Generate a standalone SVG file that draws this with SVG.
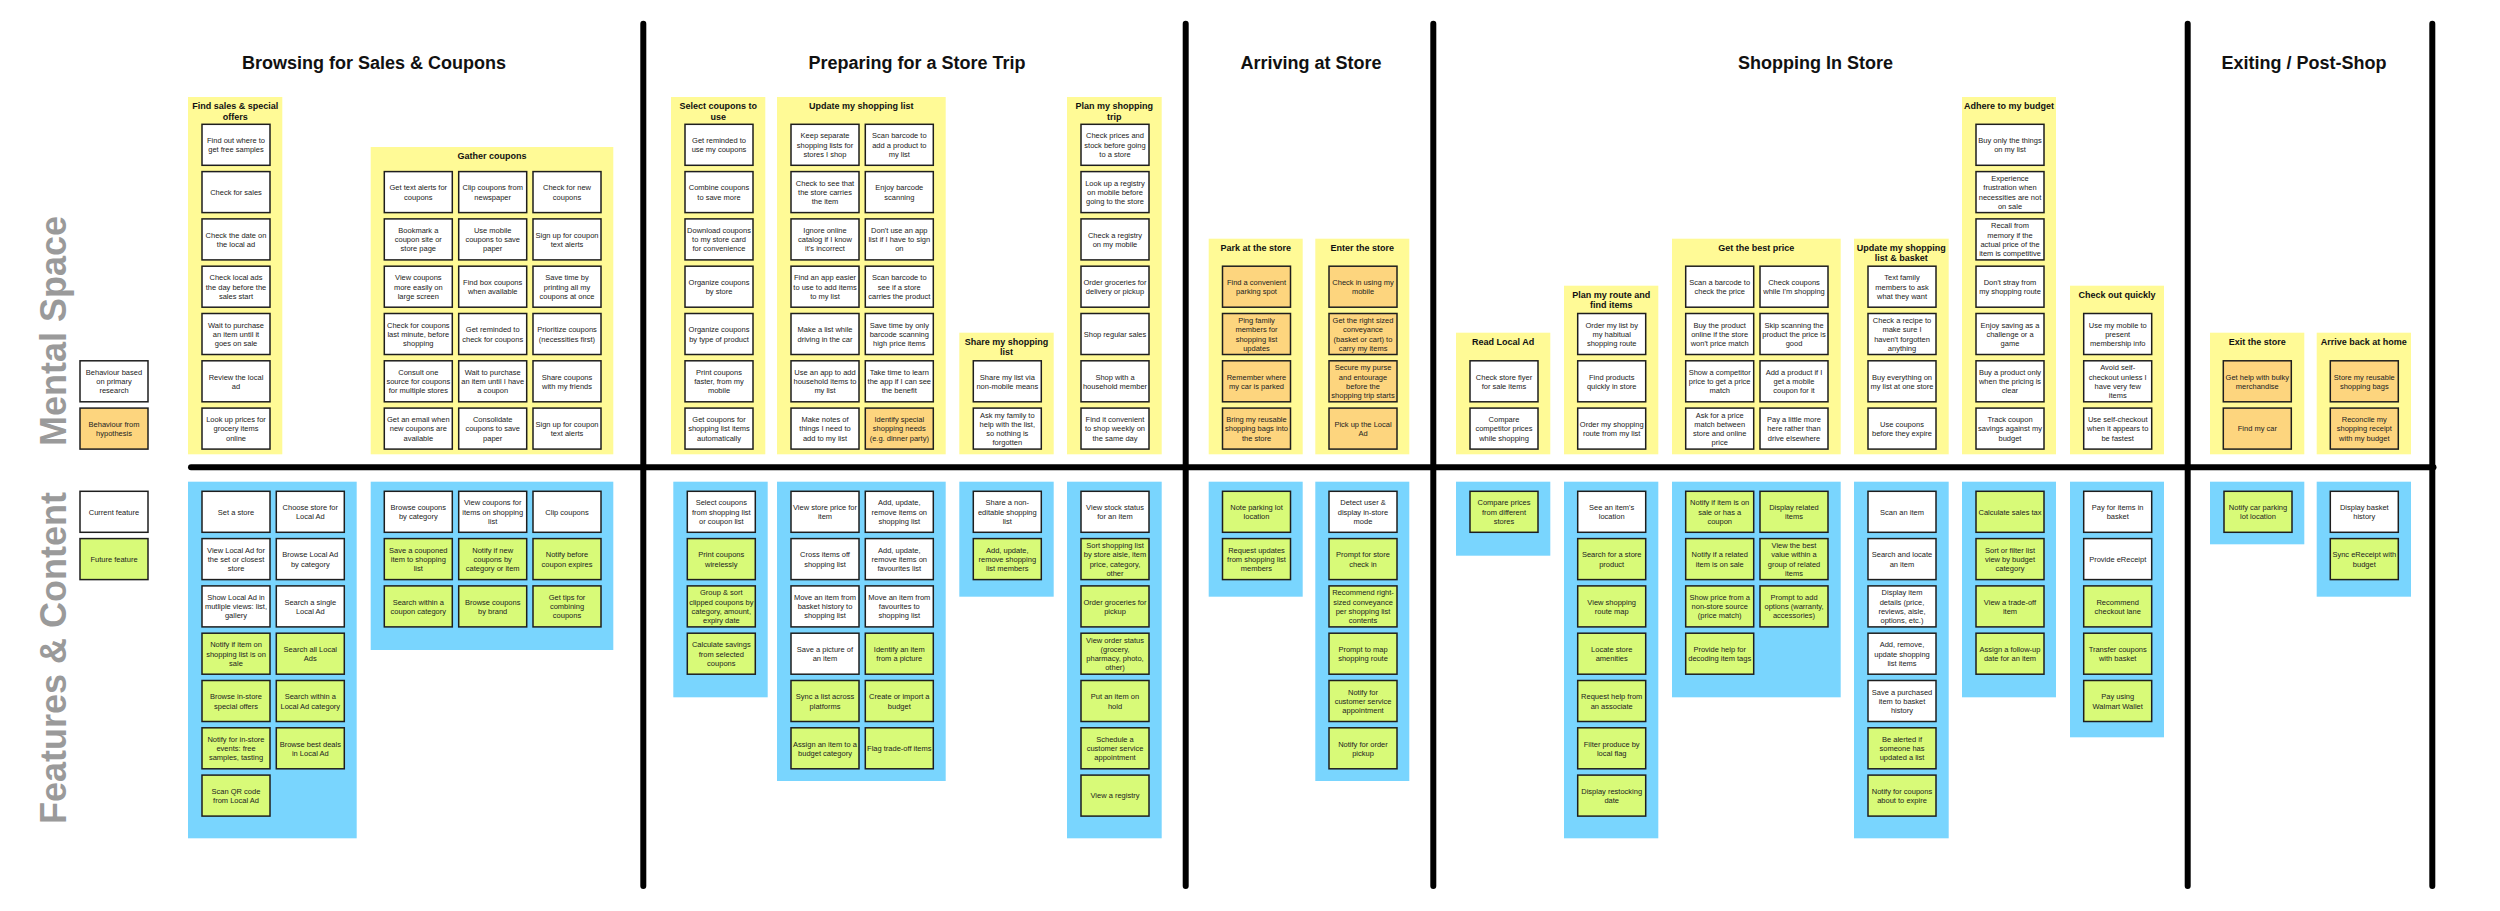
<svg xmlns="http://www.w3.org/2000/svg" width="2500" height="911" viewBox="0 0 2500 911">
<style>
.hdr{font:bold 18px "Liberation Sans",Arial,sans-serif;fill:#111;text-anchor:middle}
.side{font:bold 36px "Liberation Sans",Arial,sans-serif;fill:#9a9a9a;text-anchor:middle}
.gt{font:bold 9px "Liberation Sans",Arial,sans-serif;fill:#111;text-anchor:middle}
.t{font:7.5px "Liberation Sans",Arial,sans-serif;fill:#222;text-anchor:middle}
.yb{fill:#fffa96}
.bb{fill:#79d5fe}
.w,.o,.g{stroke:#1e1e1e;stroke-width:1.5}
.w{fill:#fff}.o{fill:#fdd57e}.g{fill:#d8fa78}
.div{stroke:#000;stroke-width:6;stroke-linecap:round;fill:none}
</style>
<rect width="2500" height="911" fill="#fff"/>

<g id="headers">
<text class="hdr" x="374" y="69">Browsing for Sales &amp; Coupons</text>
<text class="hdr" x="917" y="69">Preparing for a Store Trip</text>
<text class="hdr" x="1311" y="69">Arriving at Store</text>
<text class="hdr" x="1815.5" y="69">Shopping In Store</text>
<text class="hdr" x="2304" y="69">Exiting / Post-Shop</text>
<text class="side" transform="translate(65.7,331) rotate(-90)">Mental Space</text>
<text class="side" transform="translate(65.7,658) rotate(-90)">Features &amp; Content</text>
</g>

<g id="connectors">
<line class="div" x1="191" y1="467.3" x2="2433.5" y2="467.3"/>
<line class="div" x1="643.3" y1="23.7" x2="643.3" y2="886"/>
<line class="div" x1="1185.7" y1="23.7" x2="1185.7" y2="886"/>
<line class="div" x1="1433.3" y1="23.7" x2="1433.3" y2="886"/>
<line class="div" x1="2187.7" y1="23.7" x2="2187.7" y2="886"/>
<line class="div" x1="2432.3" y1="23.7" x2="2432.3" y2="886"/>
</g>

<g id="legend">
<g id="lg-research" transform="translate(80,360.8)"><rect class="w" width="68" height="41"/><text class="t" y="14.2"><tspan x="34">Behaviour based</tspan><tspan x="34" dy="9.2">on primary</tspan><tspan x="34" dy="9.2">research</tspan></text></g>
<g id="lg-hypothesis" transform="translate(80,408.1)"><rect class="o" width="68" height="41"/><text class="t" y="18.8"><tspan x="34">Behaviour from</tspan><tspan x="34" dy="9.2">hypothesis</tspan></text></g>
<g id="lg-current" transform="translate(80,491.3)"><rect class="w" width="68" height="41"/><text class="t" y="23.4"><tspan x="34">Current feature</tspan></text></g>
<g id="lg-future" transform="translate(80,538.6)"><rect class="g" width="68" height="41"/><text class="t" y="23.4"><tspan x="34">Future feature</tspan></text></g>
</g>

<!-- ===== Mental space groups ===== -->
<g id="ms-find-sales">
<rect class="yb" x="188" y="97" width="94.3" height="357.3"/>
<text class="gt" y="109"><tspan x="235.2">Find sales &amp; special</tspan><tspan x="235.2" dy="10.5">offers</tspan></text>
<g id="fs1" transform="translate(202,124.3)"><rect class="w" width="68" height="41"/><text class="t" y="18.8"><tspan x="34">Find out where to</tspan><tspan x="34" dy="9.2">get free samples</tspan></text></g>
<g id="fs2" transform="translate(202,171.6)"><rect class="w" width="68" height="41"/><text class="t" y="23.4"><tspan x="34">Check for sales</tspan></text></g>
<g id="fs3" transform="translate(202,218.9)"><rect class="w" width="68" height="41"/><text class="t" y="18.8"><tspan x="34">Check the date on</tspan><tspan x="34" dy="9.2">the local ad</tspan></text></g>
<g id="fs4" transform="translate(202,266.2)"><rect class="w" width="68" height="41"/><text class="t" y="14.2"><tspan x="34">Check local ads</tspan><tspan x="34" dy="9.2">the day before the</tspan><tspan x="34" dy="9.2">sales start</tspan></text></g>
<g id="fs5" transform="translate(202,313.5)"><rect class="w" width="68" height="41"/><text class="t" y="14.2"><tspan x="34">Wait to purchase</tspan><tspan x="34" dy="9.2">an item until it</tspan><tspan x="34" dy="9.2">goes on sale</tspan></text></g>
<g id="fs6" transform="translate(202,360.8)"><rect class="w" width="68" height="41"/><text class="t" y="18.8"><tspan x="34">Review the local</tspan><tspan x="34" dy="9.2">ad</tspan></text></g>
<g id="fs7" transform="translate(202,408.1)"><rect class="w" width="68" height="41"/><text class="t" y="14.2"><tspan x="34">Look up prices for</tspan><tspan x="34" dy="9.2">grocery items</tspan><tspan x="34" dy="9.2">online</tspan></text></g>
</g>

<g id="ms-gather-coupons">
<rect class="yb" x="370.7" y="147" width="242.6" height="307.3"/>
<text class="gt" x="492" y="159">Gather coupons</text>
<g id="gc1" transform="translate(384.3,171.6)"><rect class="w" width="68" height="41"/><text class="t" y="18.8"><tspan x="34">Get text alerts for</tspan><tspan x="34" dy="9.2">coupons</tspan></text></g>
<g id="gc2" transform="translate(458.7,171.6)"><rect class="w" width="68" height="41"/><text class="t" y="18.8"><tspan x="34">Clip coupons from</tspan><tspan x="34" dy="9.2">newspaper</tspan></text></g>
<g id="gc3" transform="translate(533,171.6)"><rect class="w" width="68" height="41"/><text class="t" y="18.8"><tspan x="34">Check for new</tspan><tspan x="34" dy="9.2">coupons</tspan></text></g>
<g id="gc4" transform="translate(384.3,218.9)"><rect class="w" width="68" height="41"/><text class="t" y="14.2"><tspan x="34">Bookmark a</tspan><tspan x="34" dy="9.2">coupon site or</tspan><tspan x="34" dy="9.2">store page</tspan></text></g>
<g id="gc5" transform="translate(458.7,218.9)"><rect class="w" width="68" height="41"/><text class="t" y="14.2"><tspan x="34">Use mobile</tspan><tspan x="34" dy="9.2">coupons to save</tspan><tspan x="34" dy="9.2">paper</tspan></text></g>
<g id="gc6" transform="translate(533,218.9)"><rect class="w" width="68" height="41"/><text class="t" y="18.8"><tspan x="34">Sign up for coupon</tspan><tspan x="34" dy="9.2">text alerts</tspan></text></g>
<g id="gc7" transform="translate(384.3,266.2)"><rect class="w" width="68" height="41"/><text class="t" y="14.2"><tspan x="34">View coupons</tspan><tspan x="34" dy="9.2">more easily on</tspan><tspan x="34" dy="9.2">large screen</tspan></text></g>
<g id="gc8" transform="translate(458.7,266.2)"><rect class="w" width="68" height="41"/><text class="t" y="18.8"><tspan x="34">Find box coupons</tspan><tspan x="34" dy="9.2">when available</tspan></text></g>
<g id="gc9" transform="translate(533,266.2)"><rect class="w" width="68" height="41"/><text class="t" y="14.2"><tspan x="34">Save time by</tspan><tspan x="34" dy="9.2">printing all my</tspan><tspan x="34" dy="9.2">coupons at once</tspan></text></g>
<g id="gc10" transform="translate(384.3,313.5)"><rect class="w" width="68" height="41"/><text class="t" y="14.2"><tspan x="34">Check for coupons</tspan><tspan x="34" dy="9.2">last minute, before</tspan><tspan x="34" dy="9.2">shopping</tspan></text></g>
<g id="gc11" transform="translate(458.7,313.5)"><rect class="w" width="68" height="41"/><text class="t" y="18.8"><tspan x="34">Get reminded to</tspan><tspan x="34" dy="9.2">check for coupons</tspan></text></g>
<g id="gc12" transform="translate(533,313.5)"><rect class="w" width="68" height="41"/><text class="t" y="18.8"><tspan x="34">Prioritize coupons</tspan><tspan x="34" dy="9.2">(necessities first)</tspan></text></g>
<g id="gc13" transform="translate(384.3,360.8)"><rect class="w" width="68" height="41"/><text class="t" y="14.2"><tspan x="34">Consult one</tspan><tspan x="34" dy="9.2">source for coupons</tspan><tspan x="34" dy="9.2">for multiple stores</tspan></text></g>
<g id="gc14" transform="translate(458.7,360.8)"><rect class="w" width="68" height="41"/><text class="t" y="14.2"><tspan x="34">Wait to purchase</tspan><tspan x="34" dy="9.2">an item until I have</tspan><tspan x="34" dy="9.2">a coupon</tspan></text></g>
<g id="gc15" transform="translate(533,360.8)"><rect class="w" width="68" height="41"/><text class="t" y="18.8"><tspan x="34">Share coupons</tspan><tspan x="34" dy="9.2">with my friends</tspan></text></g>
<g id="gc16" transform="translate(384.3,408.1)"><rect class="w" width="68" height="41"/><text class="t" y="14.2"><tspan x="34">Get an email when</tspan><tspan x="34" dy="9.2">new coupons are</tspan><tspan x="34" dy="9.2">available</tspan></text></g>
<g id="gc17" transform="translate(458.7,408.1)"><rect class="w" width="68" height="41"/><text class="t" y="14.2"><tspan x="34">Consolidate</tspan><tspan x="34" dy="9.2">coupons to save</tspan><tspan x="34" dy="9.2">paper</tspan></text></g>
<g id="gc18" transform="translate(533,408.1)"><rect class="w" width="68" height="41"/><text class="t" y="18.8"><tspan x="34">Sign up for coupon</tspan><tspan x="34" dy="9.2">text alerts</tspan></text></g>
</g>

<g id="ms-select-coupons">
<rect class="yb" x="671" y="97" width="94.3" height="357.3"/>
<text class="gt" y="109"><tspan x="718.2">Select coupons to</tspan><tspan x="718.2" dy="10.5">use</tspan></text>
<g id="sc1" transform="translate(685,124.3)"><rect class="w" width="68" height="41"/><text class="t" y="18.8"><tspan x="34">Get reminded to</tspan><tspan x="34" dy="9.2">use my coupons</tspan></text></g>
<g id="sc2" transform="translate(685,171.6)"><rect class="w" width="68" height="41"/><text class="t" y="18.8"><tspan x="34">Combine coupons</tspan><tspan x="34" dy="9.2">to save more</tspan></text></g>
<g id="sc3" transform="translate(685,218.9)"><rect class="w" width="68" height="41"/><text class="t" y="14.2"><tspan x="34">Download coupons</tspan><tspan x="34" dy="9.2">to my store card</tspan><tspan x="34" dy="9.2">for convenience</tspan></text></g>
<g id="sc4" transform="translate(685,266.2)"><rect class="w" width="68" height="41"/><text class="t" y="18.8"><tspan x="34">Organize coupons</tspan><tspan x="34" dy="9.2">by store</tspan></text></g>
<g id="sc5" transform="translate(685,313.5)"><rect class="w" width="68" height="41"/><text class="t" y="18.8"><tspan x="34">Organize coupons</tspan><tspan x="34" dy="9.2">by type of product</tspan></text></g>
<g id="sc6" transform="translate(685,360.8)"><rect class="w" width="68" height="41"/><text class="t" y="14.2"><tspan x="34">Print coupons</tspan><tspan x="34" dy="9.2">faster, from my</tspan><tspan x="34" dy="9.2">mobile</tspan></text></g>
<g id="sc7" transform="translate(685,408.1)"><rect class="w" width="68" height="41"/><text class="t" y="14.2"><tspan x="34">Get coupons for</tspan><tspan x="34" dy="9.2">shopping list items</tspan><tspan x="34" dy="9.2">automatically</tspan></text></g>
</g>

<g id="ms-update-list">
<rect class="yb" x="777" y="97" width="168.7" height="357.3"/>
<text class="gt" x="861.3" y="109">Update my shopping list</text>
<g id="ul1" transform="translate(791,124.3)"><rect class="w" width="68" height="41"/><text class="t" y="14.2"><tspan x="34">Keep separate</tspan><tspan x="34" dy="9.2">shopping lists for</tspan><tspan x="34" dy="9.2">stores I shop</tspan></text></g>
<g id="ul2" transform="translate(791,171.6)"><rect class="w" width="68" height="41"/><text class="t" y="14.2"><tspan x="34">Check to see that</tspan><tspan x="34" dy="9.2">the store carries</tspan><tspan x="34" dy="9.2">the item</tspan></text></g>
<g id="ul3" transform="translate(791,218.9)"><rect class="w" width="68" height="41"/><text class="t" y="14.2"><tspan x="34">Ignore online</tspan><tspan x="34" dy="9.2">catalog if I know</tspan><tspan x="34" dy="9.2">it's incorrect</tspan></text></g>
<g id="ul4" transform="translate(791,266.2)"><rect class="w" width="68" height="41"/><text class="t" y="14.2"><tspan x="34">Find an app easier</tspan><tspan x="34" dy="9.2">to use to add items</tspan><tspan x="34" dy="9.2">to my list</tspan></text></g>
<g id="ul5" transform="translate(791,313.5)"><rect class="w" width="68" height="41"/><text class="t" y="18.8"><tspan x="34">Make a list while</tspan><tspan x="34" dy="9.2">driving in the car</tspan></text></g>
<g id="ul6" transform="translate(791,360.8)"><rect class="w" width="68" height="41"/><text class="t" y="14.2"><tspan x="34">Use an app to add</tspan><tspan x="34" dy="9.2">household items to</tspan><tspan x="34" dy="9.2">my list</tspan></text></g>
<g id="ul7" transform="translate(791,408.1)"><rect class="w" width="68" height="41"/><text class="t" y="14.2"><tspan x="34">Make notes of</tspan><tspan x="34" dy="9.2">things I need to</tspan><tspan x="34" dy="9.2">add to my list</tspan></text></g>
<g id="ul8" transform="translate(865.3,124.3)"><rect class="w" width="68" height="41"/><text class="t" y="14.2"><tspan x="34">Scan barcode to</tspan><tspan x="34" dy="9.2">add a product to</tspan><tspan x="34" dy="9.2">my list</tspan></text></g>
<g id="ul9" transform="translate(865.3,171.6)"><rect class="w" width="68" height="41"/><text class="t" y="18.8"><tspan x="34">Enjoy barcode</tspan><tspan x="34" dy="9.2">scanning</tspan></text></g>
<g id="ul10" transform="translate(865.3,218.9)"><rect class="w" width="68" height="41"/><text class="t" y="14.2"><tspan x="34">Don't use an app</tspan><tspan x="34" dy="9.2">list if I have to sign</tspan><tspan x="34" dy="9.2">on</tspan></text></g>
<g id="ul11" transform="translate(865.3,266.2)"><rect class="w" width="68" height="41"/><text class="t" y="14.2"><tspan x="34">Scan barcode to</tspan><tspan x="34" dy="9.2">see if a store</tspan><tspan x="34" dy="9.2">carries the product</tspan></text></g>
<g id="ul12" transform="translate(865.3,313.5)"><rect class="w" width="68" height="41"/><text class="t" y="14.2"><tspan x="34">Save time by only</tspan><tspan x="34" dy="9.2">barcode scanning</tspan><tspan x="34" dy="9.2">high price items</tspan></text></g>
<g id="ul13" transform="translate(865.3,360.8)"><rect class="w" width="68" height="41"/><text class="t" y="14.2"><tspan x="34">Take time to learn</tspan><tspan x="34" dy="9.2">the app if I can see</tspan><tspan x="34" dy="9.2">the benefit</tspan></text></g>
<g id="ul14" transform="translate(865.3,408.1)"><rect class="o" width="68" height="41"/><text class="t" y="14.2"><tspan x="34">Identify special</tspan><tspan x="34" dy="9.2">shopping needs</tspan><tspan x="34" dy="9.2">(e.g. dinner party)</tspan></text></g>
</g>

<g id="ms-share-list">
<rect class="yb" x="959.3" y="332.7" width="94.4" height="121.6"/>
<text class="gt" y="344.7"><tspan x="1006.5">Share my shopping</tspan><tspan x="1006.5" dy="10.5">list</tspan></text>
<g id="sh1" transform="translate(973.3,360.8)"><rect class="w" width="68" height="41"/><text class="t" y="18.8"><tspan x="34">Share my list via</tspan><tspan x="34" dy="9.2">non-mobile means</tspan></text></g>
<g id="sh2" transform="translate(973.3,408.1)"><rect class="w" width="68" height="41"/><text class="t" y="9.6"><tspan x="34">Ask my family to</tspan><tspan x="34" dy="9.2">help with the list,</tspan><tspan x="34" dy="9.2">so nothing is</tspan><tspan x="34" dy="9.2">forgotten</tspan></text></g>
</g>

<g id="ms-plan-trip">
<rect class="yb" x="1067" y="97" width="94.7" height="357.3"/>
<text class="gt" y="109"><tspan x="1114.3">Plan my shopping</tspan><tspan x="1114.3" dy="10.5">trip</tspan></text>
<g id="pt1" transform="translate(1081,124.3)"><rect class="w" width="68" height="41"/><text class="t" y="14.2"><tspan x="34">Check prices and</tspan><tspan x="34" dy="9.2">stock before going</tspan><tspan x="34" dy="9.2">to a store</tspan></text></g>
<g id="pt2" transform="translate(1081,171.6)"><rect class="w" width="68" height="41"/><text class="t" y="14.2"><tspan x="34">Look up a registry</tspan><tspan x="34" dy="9.2">on mobile before</tspan><tspan x="34" dy="9.2">going to the store</tspan></text></g>
<g id="pt3" transform="translate(1081,218.9)"><rect class="w" width="68" height="41"/><text class="t" y="18.8"><tspan x="34">Check a registry</tspan><tspan x="34" dy="9.2">on my mobile</tspan></text></g>
<g id="pt4" transform="translate(1081,266.2)"><rect class="w" width="68" height="41"/><text class="t" y="18.8"><tspan x="34">Order groceries for</tspan><tspan x="34" dy="9.2">delivery or pickup</tspan></text></g>
<g id="pt5" transform="translate(1081,313.5)"><rect class="w" width="68" height="41"/><text class="t" y="23.4"><tspan x="34">Shop regular sales</tspan></text></g>
<g id="pt6" transform="translate(1081,360.8)"><rect class="w" width="68" height="41"/><text class="t" y="18.8"><tspan x="34">Shop with a</tspan><tspan x="34" dy="9.2">household member</tspan></text></g>
<g id="pt7" transform="translate(1081,408.1)"><rect class="w" width="68" height="41"/><text class="t" y="14.2"><tspan x="34">Find it convenient</tspan><tspan x="34" dy="9.2">to shop weekly on</tspan><tspan x="34" dy="9.2">the same day</tspan></text></g>
</g>

<g id="ms-park">
<rect class="yb" x="1208.7" y="238.7" width="94" height="215.6"/>
<text class="gt" x="1255.7" y="250.7">Park at the store</text>
<g id="pk1" transform="translate(1222.5,266.2)"><rect class="o" width="68" height="41"/><text class="t" y="18.8"><tspan x="34">Find a convenient</tspan><tspan x="34" dy="9.2">parking spot</tspan></text></g>
<g id="pk2" transform="translate(1222.5,313.5)"><rect class="o" width="68" height="41"/><text class="t" y="9.6"><tspan x="34">Ping family</tspan><tspan x="34" dy="9.2">members for</tspan><tspan x="34" dy="9.2">shopping list</tspan><tspan x="34" dy="9.2">updates</tspan></text></g>
<g id="pk3" transform="translate(1222.5,360.8)"><rect class="o" width="68" height="41"/><text class="t" y="18.8"><tspan x="34">Remember where</tspan><tspan x="34" dy="9.2">my car is parked</tspan></text></g>
<g id="pk4" transform="translate(1222.5,408.1)"><rect class="o" width="68" height="41"/><text class="t" y="14.2"><tspan x="34">Bring my reusable</tspan><tspan x="34" dy="9.2">shopping bags into</tspan><tspan x="34" dy="9.2">the store</tspan></text></g>
</g>

<g id="ms-enter">
<rect class="yb" x="1315.3" y="238.7" width="94" height="215.6"/>
<text class="gt" x="1362.3" y="250.7">Enter the store</text>
<g id="en1" transform="translate(1329,266.2)"><rect class="o" width="68" height="41"/><text class="t" y="18.8"><tspan x="34">Check in using my</tspan><tspan x="34" dy="9.2">mobile</tspan></text></g>
<g id="en2" transform="translate(1329,313.5)"><rect class="o" width="68" height="41"/><text class="t" y="9.6"><tspan x="34">Get the right sized</tspan><tspan x="34" dy="9.2">conveyance</tspan><tspan x="34" dy="9.2">(basket or cart) to</tspan><tspan x="34" dy="9.2">carry my items</tspan></text></g>
<g id="en3" transform="translate(1329,360.8)"><rect class="o" width="68" height="41"/><text class="t" y="9.6"><tspan x="34">Secure my purse</tspan><tspan x="34" dy="9.2">and entourage</tspan><tspan x="34" dy="9.2">before the</tspan><tspan x="34" dy="9.2">shopping trip starts</tspan></text></g>
<g id="en4" transform="translate(1329,408.1)"><rect class="o" width="68" height="41"/><text class="t" y="18.8"><tspan x="34">Pick up the Local</tspan><tspan x="34" dy="9.2">Ad</tspan></text></g>
</g>

<g id="ms-read-ad">
<rect class="yb" x="1456" y="332.7" width="94.3" height="121.6"/>
<text class="gt" x="1503.2" y="344.7">Read Local Ad</text>
<g id="ra1" transform="translate(1470,360.8)"><rect class="w" width="68" height="41"/><text class="t" y="18.8"><tspan x="34">Check store flyer</tspan><tspan x="34" dy="9.2">for sale items</tspan></text></g>
<g id="ra2" transform="translate(1470,408.1)"><rect class="w" width="68" height="41"/><text class="t" y="14.2"><tspan x="34">Compare</tspan><tspan x="34" dy="9.2">competitor prices</tspan><tspan x="34" dy="9.2">while shopping</tspan></text></g>
</g>

<g id="ms-plan-route">
<rect class="yb" x="1564" y="285.7" width="94.3" height="168.6"/>
<text class="gt" y="297.7"><tspan x="1611.2">Plan my route and</tspan><tspan x="1611.2" dy="10.5">find items</tspan></text>
<g id="pr1" transform="translate(1577.7,313.5)"><rect class="w" width="68" height="41"/><text class="t" y="14.2"><tspan x="34">Order my list by</tspan><tspan x="34" dy="9.2">my habitual</tspan><tspan x="34" dy="9.2">shopping route</tspan></text></g>
<g id="pr2" transform="translate(1577.7,360.8)"><rect class="w" width="68" height="41"/><text class="t" y="18.8"><tspan x="34">Find products</tspan><tspan x="34" dy="9.2">quickly in store</tspan></text></g>
<g id="pr3" transform="translate(1577.7,408.1)"><rect class="w" width="68" height="41"/><text class="t" y="18.8"><tspan x="34">Order my shopping</tspan><tspan x="34" dy="9.2">route from my list</tspan></text></g>
</g>

<g id="ms-best-price">
<rect class="yb" x="1672" y="238.7" width="168.7" height="215.6"/>
<text class="gt" x="1756.3" y="250.7">Get the best price</text>
<g id="bp1" transform="translate(1685.7,266.2)"><rect class="w" width="68" height="41"/><text class="t" y="18.8"><tspan x="34">Scan a barcode to</tspan><tspan x="34" dy="9.2">check the price</tspan></text></g>
<g id="bp2" transform="translate(1685.7,313.5)"><rect class="w" width="68" height="41"/><text class="t" y="14.2"><tspan x="34">Buy the product</tspan><tspan x="34" dy="9.2">online if the store</tspan><tspan x="34" dy="9.2">won't price match</tspan></text></g>
<g id="bp3" transform="translate(1685.7,360.8)"><rect class="w" width="68" height="41"/><text class="t" y="14.2"><tspan x="34">Show a competitor</tspan><tspan x="34" dy="9.2">price to get a price</tspan><tspan x="34" dy="9.2">match</tspan></text></g>
<g id="bp4" transform="translate(1685.7,408.1)"><rect class="w" width="68" height="41"/><text class="t" y="9.6"><tspan x="34">Ask for a price</tspan><tspan x="34" dy="9.2">match between</tspan><tspan x="34" dy="9.2">store and online</tspan><tspan x="34" dy="9.2">price</tspan></text></g>
<g id="bp5" transform="translate(1760,266.2)"><rect class="w" width="68" height="41"/><text class="t" y="18.8"><tspan x="34">Check coupons</tspan><tspan x="34" dy="9.2">while I'm shopping</tspan></text></g>
<g id="bp6" transform="translate(1760,313.5)"><rect class="w" width="68" height="41"/><text class="t" y="14.2"><tspan x="34">Skip scanning the</tspan><tspan x="34" dy="9.2">product the price is</tspan><tspan x="34" dy="9.2">good</tspan></text></g>
<g id="bp7" transform="translate(1760,360.8)"><rect class="w" width="68" height="41"/><text class="t" y="14.2"><tspan x="34">Add a product if I</tspan><tspan x="34" dy="9.2">get a mobile</tspan><tspan x="34" dy="9.2">coupon for it</tspan></text></g>
<g id="bp8" transform="translate(1760,408.1)"><rect class="w" width="68" height="41"/><text class="t" y="14.2"><tspan x="34">Pay a little more</tspan><tspan x="34" dy="9.2">here rather than</tspan><tspan x="34" dy="9.2">drive elsewhere</tspan></text></g>
</g>

<g id="ms-update-basket">
<rect class="yb" x="1854" y="238.7" width="94.7" height="215.6"/>
<text class="gt" y="250.7"><tspan x="1901.3">Update my shopping</tspan><tspan x="1901.3" dy="10.5">list &amp; basket</tspan></text>
<g id="ub1" transform="translate(1868,266.2)"><rect class="w" width="68" height="41"/><text class="t" y="14.2"><tspan x="34">Text family</tspan><tspan x="34" dy="9.2">members to ask</tspan><tspan x="34" dy="9.2">what they want</tspan></text></g>
<g id="ub2" transform="translate(1868,313.5)"><rect class="w" width="68" height="41"/><text class="t" y="9.6"><tspan x="34">Check a recipe to</tspan><tspan x="34" dy="9.2">make sure I</tspan><tspan x="34" dy="9.2">haven't forgotten</tspan><tspan x="34" dy="9.2">anything</tspan></text></g>
<g id="ub3" transform="translate(1868,360.8)"><rect class="w" width="68" height="41"/><text class="t" y="18.8"><tspan x="34">Buy everything on</tspan><tspan x="34" dy="9.2">my list at one store</tspan></text></g>
<g id="ub4" transform="translate(1868,408.1)"><rect class="w" width="68" height="41"/><text class="t" y="18.8"><tspan x="34">Use coupons</tspan><tspan x="34" dy="9.2">before they expire</tspan></text></g>
</g>

<g id="ms-budget">
<rect class="yb" x="1962" y="97" width="94" height="357.3"/>
<text class="gt" x="2009" y="109">Adhere to my budget</text>
<g id="bd1" transform="translate(1976,124.3)"><rect class="w" width="68" height="41"/><text class="t" y="18.8"><tspan x="34">Buy only the things</tspan><tspan x="34" dy="9.2">on my list</tspan></text></g>
<g id="bd2" transform="translate(1976,171.6)"><rect class="w" width="68" height="41"/><text class="t" y="9.6"><tspan x="34">Experience</tspan><tspan x="34" dy="9.2">frustration when</tspan><tspan x="34" dy="9.2">necessities are not</tspan><tspan x="34" dy="9.2">on sale</tspan></text></g>
<g id="bd3" transform="translate(1976,218.9)"><rect class="w" width="68" height="41"/><text class="t" y="9.6"><tspan x="34">Recall from</tspan><tspan x="34" dy="9.2">memory if the</tspan><tspan x="34" dy="9.2">actual price of the</tspan><tspan x="34" dy="9.2">item is competitive</tspan></text></g>
<g id="bd4" transform="translate(1976,266.2)"><rect class="w" width="68" height="41"/><text class="t" y="18.8"><tspan x="34">Don't stray from</tspan><tspan x="34" dy="9.2">my shopping route</tspan></text></g>
<g id="bd5" transform="translate(1976,313.5)"><rect class="w" width="68" height="41"/><text class="t" y="14.2"><tspan x="34">Enjoy saving as a</tspan><tspan x="34" dy="9.2">challenge or a</tspan><tspan x="34" dy="9.2">game</tspan></text></g>
<g id="bd6" transform="translate(1976,360.8)"><rect class="w" width="68" height="41"/><text class="t" y="14.2"><tspan x="34">Buy a product only</tspan><tspan x="34" dy="9.2">when the pricing is</tspan><tspan x="34" dy="9.2">clear</tspan></text></g>
<g id="bd7" transform="translate(1976,408.1)"><rect class="w" width="68" height="41"/><text class="t" y="14.2"><tspan x="34">Track coupon</tspan><tspan x="34" dy="9.2">savings against my</tspan><tspan x="34" dy="9.2">budget</tspan></text></g>
</g>

<g id="ms-checkout">
<rect class="yb" x="2070" y="285.7" width="94" height="168.6"/>
<text class="gt" x="2117" y="297.7">Check out quickly</text>
<g id="co1" transform="translate(2083.7,313.5)"><rect class="w" width="68" height="41"/><text class="t" y="14.2"><tspan x="34">Use my mobile to</tspan><tspan x="34" dy="9.2">present</tspan><tspan x="34" dy="9.2">membership info</tspan></text></g>
<g id="co2" transform="translate(2083.7,360.8)"><rect class="w" width="68" height="41"/><text class="t" y="9.6"><tspan x="34">Avoid self-</tspan><tspan x="34" dy="9.2">checkout unless I</tspan><tspan x="34" dy="9.2">have very few</tspan><tspan x="34" dy="9.2">items</tspan></text></g>
<g id="co3" transform="translate(2083.7,408.1)"><rect class="w" width="68" height="41"/><text class="t" y="14.2"><tspan x="34">Use self-checkout</tspan><tspan x="34" dy="9.2">when it appears to</tspan><tspan x="34" dy="9.2">be fastest</tspan></text></g>
</g>

<g id="ms-exit">
<rect class="yb" x="2210" y="332.7" width="94.3" height="121.6"/>
<text class="gt" x="2257.2" y="344.7">Exit the store</text>
<g id="ex1" transform="translate(2223.3,360.8)"><rect class="o" width="68" height="41"/><text class="t" y="18.8"><tspan x="34">Get help with bulky</tspan><tspan x="34" dy="9.2">merchandise</tspan></text></g>
<g id="ex2" transform="translate(2223.3,408.1)"><rect class="o" width="68" height="41"/><text class="t" y="23.4"><tspan x="34">Find my car</tspan></text></g>
</g>

<g id="ms-home">
<rect class="yb" x="2316.7" y="332.7" width="94.3" height="121.6"/>
<text class="gt" x="2363.8" y="344.7">Arrive back at home</text>
<g id="hm1" transform="translate(2330.3,360.8)"><rect class="o" width="68" height="41"/><text class="t" y="18.8"><tspan x="34">Store my reusable</tspan><tspan x="34" dy="9.2">shopping bags</tspan></text></g>
<g id="hm2" transform="translate(2330.3,408.1)"><rect class="o" width="68" height="41"/><text class="t" y="14.2"><tspan x="34">Reconcile my</tspan><tspan x="34" dy="9.2">shopping receipt</tspan><tspan x="34" dy="9.2">with my budget</tspan></text></g>
</g>

<!-- ===== Features & Content groups ===== -->
<g id="fc-local-ad">
<rect class="bb" x="188" y="481.7" width="168.7" height="356.6"/>
<g id="la1" transform="translate(202,491.3)"><rect class="w" width="68" height="41"/><text class="t" y="23.4"><tspan x="34">Set a store</tspan></text></g>
<g id="la2" transform="translate(202,538.6)"><rect class="w" width="68" height="41"/><text class="t" y="14.2"><tspan x="34">View Local Ad for</tspan><tspan x="34" dy="9.2">the set or closest</tspan><tspan x="34" dy="9.2">store</tspan></text></g>
<g id="la3" transform="translate(202,585.9)"><rect class="w" width="68" height="41"/><text class="t" y="14.2"><tspan x="34">Show Local Ad in</tspan><tspan x="34" dy="9.2">mutliple views: list,</tspan><tspan x="34" dy="9.2">gallery</tspan></text></g>
<g id="la4" transform="translate(202,633.2)"><rect class="g" width="68" height="41"/><text class="t" y="14.2"><tspan x="34">Notify if item on</tspan><tspan x="34" dy="9.2">shopping list is on</tspan><tspan x="34" dy="9.2">sale</tspan></text></g>
<g id="la5" transform="translate(202,680.5)"><rect class="g" width="68" height="41"/><text class="t" y="18.8"><tspan x="34">Browse in-store</tspan><tspan x="34" dy="9.2">special offers</tspan></text></g>
<g id="la6" transform="translate(202,727.8)"><rect class="g" width="68" height="41"/><text class="t" y="14.2"><tspan x="34">Notify for in-store</tspan><tspan x="34" dy="9.2">events: free</tspan><tspan x="34" dy="9.2">samples, tasting</tspan></text></g>
<g id="la7" transform="translate(202,775.1)"><rect class="g" width="68" height="41"/><text class="t" y="18.8"><tspan x="34">Scan QR code</tspan><tspan x="34" dy="9.2">from Local Ad</tspan></text></g>
<g id="la8" transform="translate(276.3,491.3)"><rect class="w" width="68" height="41"/><text class="t" y="18.8"><tspan x="34">Choose store for</tspan><tspan x="34" dy="9.2">Local Ad</tspan></text></g>
<g id="la9" transform="translate(276.3,538.6)"><rect class="w" width="68" height="41"/><text class="t" y="18.8"><tspan x="34">Browse Local Ad</tspan><tspan x="34" dy="9.2">by category</tspan></text></g>
<g id="la10" transform="translate(276.3,585.9)"><rect class="w" width="68" height="41"/><text class="t" y="18.8"><tspan x="34">Search a single</tspan><tspan x="34" dy="9.2">Local Ad</tspan></text></g>
<g id="la11" transform="translate(276.3,633.2)"><rect class="g" width="68" height="41"/><text class="t" y="18.8"><tspan x="34">Search all Local</tspan><tspan x="34" dy="9.2">Ads</tspan></text></g>
<g id="la12" transform="translate(276.3,680.5)"><rect class="g" width="68" height="41"/><text class="t" y="18.8"><tspan x="34">Search within a</tspan><tspan x="34" dy="9.2">Local Ad category</tspan></text></g>
<g id="la13" transform="translate(276.3,727.8)"><rect class="g" width="68" height="41"/><text class="t" y="18.8"><tspan x="34">Browse best deals</tspan><tspan x="34" dy="9.2">in Local Ad</tspan></text></g>
</g>

<g id="fc-coupons">
<rect class="bb" x="370.7" y="481.7" width="242.6" height="168.3"/>
<g id="cp1" transform="translate(384.3,491.3)"><rect class="w" width="68" height="41"/><text class="t" y="18.8"><tspan x="34">Browse coupons</tspan><tspan x="34" dy="9.2">by category</tspan></text></g>
<g id="cp2" transform="translate(458.7,491.3)"><rect class="w" width="68" height="41"/><text class="t" y="14.2"><tspan x="34">View coupons for</tspan><tspan x="34" dy="9.2">items on shopping</tspan><tspan x="34" dy="9.2">list</tspan></text></g>
<g id="cp3" transform="translate(533,491.3)"><rect class="w" width="68" height="41"/><text class="t" y="23.4"><tspan x="34">Clip coupons</tspan></text></g>
<g id="cp4" transform="translate(384.3,538.6)"><rect class="g" width="68" height="41"/><text class="t" y="14.2"><tspan x="34">Save a couponed</tspan><tspan x="34" dy="9.2">item to shopping</tspan><tspan x="34" dy="9.2">list</tspan></text></g>
<g id="cp5" transform="translate(458.7,538.6)"><rect class="g" width="68" height="41"/><text class="t" y="14.2"><tspan x="34">Notify if new</tspan><tspan x="34" dy="9.2">coupons by</tspan><tspan x="34" dy="9.2">category or item</tspan></text></g>
<g id="cp6" transform="translate(533,538.6)"><rect class="g" width="68" height="41"/><text class="t" y="18.8"><tspan x="34">Notify before</tspan><tspan x="34" dy="9.2">coupon expires</tspan></text></g>
<g id="cp7" transform="translate(384.3,585.9)"><rect class="g" width="68" height="41"/><text class="t" y="18.8"><tspan x="34">Search within a</tspan><tspan x="34" dy="9.2">coupon category</tspan></text></g>
<g id="cp8" transform="translate(458.7,585.9)"><rect class="g" width="68" height="41"/><text class="t" y="18.8"><tspan x="34">Browse coupons</tspan><tspan x="34" dy="9.2">by brand</tspan></text></g>
<g id="cp9" transform="translate(533,585.9)"><rect class="g" width="68" height="41"/><text class="t" y="14.2"><tspan x="34">Get tips for</tspan><tspan x="34" dy="9.2">combining</tspan><tspan x="34" dy="9.2">coupons</tspan></text></g>
</g>

<g id="fc-select-coupons">
<rect class="bb" x="673.3" y="481.7" width="94.4" height="215.6"/>
<g id="fs-1" transform="translate(687.3,491.3)"><rect class="w" width="68" height="41"/><text class="t" y="14.2"><tspan x="34">Select coupons</tspan><tspan x="34" dy="9.2">from shopping list</tspan><tspan x="34" dy="9.2">or coupon list</tspan></text></g>
<g id="fs-2" transform="translate(687.3,538.6)"><rect class="g" width="68" height="41"/><text class="t" y="18.8"><tspan x="34">Print coupons</tspan><tspan x="34" dy="9.2">wirelessly</tspan></text></g>
<g id="fs-3" transform="translate(687.3,585.9)"><rect class="g" width="68" height="41"/><text class="t" y="9.6"><tspan x="34">Group &amp; sort</tspan><tspan x="34" dy="9.2">clipped coupons by</tspan><tspan x="34" dy="9.2">category, amount,</tspan><tspan x="34" dy="9.2">expiry date</tspan></text></g>
<g id="fs-4" transform="translate(687.3,633.2)"><rect class="g" width="68" height="41"/><text class="t" y="14.2"><tspan x="34">Calculate savings</tspan><tspan x="34" dy="9.2">from selected</tspan><tspan x="34" dy="9.2">coupons</tspan></text></g>
</g>

<g id="fc-shopping-list">
<rect class="bb" x="777" y="481.7" width="168.7" height="299.3"/>
<g id="sl1" transform="translate(791,491.3)"><rect class="w" width="68" height="41"/><text class="t" y="18.8"><tspan x="34">View store price for</tspan><tspan x="34" dy="9.2">item</tspan></text></g>
<g id="sl2" transform="translate(791,538.6)"><rect class="w" width="68" height="41"/><text class="t" y="18.8"><tspan x="34">Cross items off</tspan><tspan x="34" dy="9.2">shopping list</tspan></text></g>
<g id="sl3" transform="translate(791,585.9)"><rect class="w" width="68" height="41"/><text class="t" y="14.2"><tspan x="34">Move an item from</tspan><tspan x="34" dy="9.2">basket history to</tspan><tspan x="34" dy="9.2">shopping list</tspan></text></g>
<g id="sl4" transform="translate(791,633.2)"><rect class="w" width="68" height="41"/><text class="t" y="18.8"><tspan x="34">Save a picture of</tspan><tspan x="34" dy="9.2">an item</tspan></text></g>
<g id="sl5" transform="translate(791,680.5)"><rect class="g" width="68" height="41"/><text class="t" y="18.8"><tspan x="34">Sync a list across</tspan><tspan x="34" dy="9.2">platforms</tspan></text></g>
<g id="sl6" transform="translate(791,727.8)"><rect class="g" width="68" height="41"/><text class="t" y="18.8"><tspan x="34">Assign an item to a</tspan><tspan x="34" dy="9.2">budget category</tspan></text></g>
<g id="sl7" transform="translate(865.3,491.3)"><rect class="w" width="68" height="41"/><text class="t" y="14.2"><tspan x="34">Add, update,</tspan><tspan x="34" dy="9.2">remove items on</tspan><tspan x="34" dy="9.2">shopping list</tspan></text></g>
<g id="sl8" transform="translate(865.3,538.6)"><rect class="w" width="68" height="41"/><text class="t" y="14.2"><tspan x="34">Add, update,</tspan><tspan x="34" dy="9.2">remove items on</tspan><tspan x="34" dy="9.2">favourites list</tspan></text></g>
<g id="sl9" transform="translate(865.3,585.9)"><rect class="w" width="68" height="41"/><text class="t" y="14.2"><tspan x="34">Move an item from</tspan><tspan x="34" dy="9.2">favourites to</tspan><tspan x="34" dy="9.2">shopping list</tspan></text></g>
<g id="sl10" transform="translate(865.3,633.2)"><rect class="g" width="68" height="41"/><text class="t" y="18.8"><tspan x="34">Identify an item</tspan><tspan x="34" dy="9.2">from a picture</tspan></text></g>
<g id="sl11" transform="translate(865.3,680.5)"><rect class="g" width="68" height="41"/><text class="t" y="18.8"><tspan x="34">Create or import a</tspan><tspan x="34" dy="9.2">budget</tspan></text></g>
<g id="sl12" transform="translate(865.3,727.8)"><rect class="g" width="68" height="41"/><text class="t" y="23.4"><tspan x="34">Flag trade-off items</tspan></text></g>
</g>

<g id="fc-share">
<rect class="bb" x="959.3" y="481.7" width="94.4" height="115"/>
<g id="fsh1" transform="translate(973.3,491.3)"><rect class="w" width="68" height="41"/><text class="t" y="14.2"><tspan x="34">Share a non-</tspan><tspan x="34" dy="9.2">editable shopping</tspan><tspan x="34" dy="9.2">list</tspan></text></g>
<g id="fsh2" transform="translate(973.3,538.6)"><rect class="g" width="68" height="41"/><text class="t" y="14.2"><tspan x="34">Add, update,</tspan><tspan x="34" dy="9.2">remove shopping</tspan><tspan x="34" dy="9.2">list members</tspan></text></g>
</g>

<g id="fc-plan-trip">
<rect class="bb" x="1067" y="481.7" width="94.7" height="356.6"/>
<g id="fpt1" transform="translate(1081,491.3)"><rect class="w" width="68" height="41"/><text class="t" y="18.8"><tspan x="34">View stock status</tspan><tspan x="34" dy="9.2">for an item</tspan></text></g>
<g id="fpt2" transform="translate(1081,538.6)"><rect class="g" width="68" height="41"/><text class="t" y="9.6"><tspan x="34">Sort shopping list</tspan><tspan x="34" dy="9.2">by store aisle, item</tspan><tspan x="34" dy="9.2">price, category,</tspan><tspan x="34" dy="9.2">other</tspan></text></g>
<g id="fpt3" transform="translate(1081,585.9)"><rect class="g" width="68" height="41"/><text class="t" y="18.8"><tspan x="34">Order groceries for</tspan><tspan x="34" dy="9.2">pickup</tspan></text></g>
<g id="fpt4" transform="translate(1081,633.2)"><rect class="g" width="68" height="41"/><text class="t" y="9.6"><tspan x="34">View order status</tspan><tspan x="34" dy="9.2">(grocery,</tspan><tspan x="34" dy="9.2">pharmacy, photo,</tspan><tspan x="34" dy="9.2">other)</tspan></text></g>
<g id="fpt5" transform="translate(1081,680.5)"><rect class="g" width="68" height="41"/><text class="t" y="18.8"><tspan x="34">Put an item on</tspan><tspan x="34" dy="9.2">hold</tspan></text></g>
<g id="fpt6" transform="translate(1081,727.8)"><rect class="g" width="68" height="41"/><text class="t" y="14.2"><tspan x="34">Schedule a</tspan><tspan x="34" dy="9.2">customer service</tspan><tspan x="34" dy="9.2">appointment</tspan></text></g>
<g id="fpt7" transform="translate(1081,775.1)"><rect class="g" width="68" height="41"/><text class="t" y="23.4"><tspan x="34">View a registry</tspan></text></g>
</g>

<g id="fc-park">
<rect class="bb" x="1208.7" y="481.7" width="94" height="115"/>
<g id="fpk1" transform="translate(1222.5,491.3)"><rect class="g" width="68" height="41"/><text class="t" y="18.8"><tspan x="34">Note parking lot</tspan><tspan x="34" dy="9.2">location</tspan></text></g>
<g id="fpk2" transform="translate(1222.5,538.6)"><rect class="g" width="68" height="41"/><text class="t" y="14.2"><tspan x="34">Request updates</tspan><tspan x="34" dy="9.2">from shopping list</tspan><tspan x="34" dy="9.2">members</tspan></text></g>
</g>

<g id="fc-enter">
<rect class="bb" x="1315.3" y="481.7" width="94" height="299.3"/>
<g id="fen1" transform="translate(1329,491.3)"><rect class="w" width="68" height="41"/><text class="t" y="14.2"><tspan x="34">Detect user &amp;</tspan><tspan x="34" dy="9.2">display in-store</tspan><tspan x="34" dy="9.2">mode</tspan></text></g>
<g id="fen2" transform="translate(1329,538.6)"><rect class="g" width="68" height="41"/><text class="t" y="18.8"><tspan x="34">Prompt for store</tspan><tspan x="34" dy="9.2">check in</tspan></text></g>
<g id="fen3" transform="translate(1329,585.9)"><rect class="g" width="68" height="41"/><text class="t" y="9.6"><tspan x="34">Recommend right-</tspan><tspan x="34" dy="9.2">sized conveyance</tspan><tspan x="34" dy="9.2">per shopping list</tspan><tspan x="34" dy="9.2">contents</tspan></text></g>
<g id="fen4" transform="translate(1329,633.2)"><rect class="g" width="68" height="41"/><text class="t" y="18.8"><tspan x="34">Prompt to map</tspan><tspan x="34" dy="9.2">shopping route</tspan></text></g>
<g id="fen5" transform="translate(1329,680.5)"><rect class="g" width="68" height="41"/><text class="t" y="14.2"><tspan x="34">Notify for</tspan><tspan x="34" dy="9.2">customer service</tspan><tspan x="34" dy="9.2">appointment</tspan></text></g>
<g id="fen6" transform="translate(1329,727.8)"><rect class="g" width="68" height="41"/><text class="t" y="18.8"><tspan x="34">Notify for order</tspan><tspan x="34" dy="9.2">pickup</tspan></text></g>
</g>

<g id="fc-read-ad">
<rect class="bb" x="1456" y="481.7" width="94.3" height="74"/>
<g id="fra1" transform="translate(1470,491.3)"><rect class="g" width="68" height="41"/><text class="t" y="14.2"><tspan x="34">Compare prices</tspan><tspan x="34" dy="9.2">from different</tspan><tspan x="34" dy="9.2">stores</tspan></text></g>
</g>

<g id="fc-plan-route">
<rect class="bb" x="1564" y="481.7" width="94.3" height="356.6"/>
<g id="fpr1" transform="translate(1577.7,491.3)"><rect class="w" width="68" height="41"/><text class="t" y="18.8"><tspan x="34">See an item's</tspan><tspan x="34" dy="9.2">location</tspan></text></g>
<g id="fpr2" transform="translate(1577.7,538.6)"><rect class="g" width="68" height="41"/><text class="t" y="18.8"><tspan x="34">Search for a store</tspan><tspan x="34" dy="9.2">product</tspan></text></g>
<g id="fpr3" transform="translate(1577.7,585.9)"><rect class="g" width="68" height="41"/><text class="t" y="18.8"><tspan x="34">View shopping</tspan><tspan x="34" dy="9.2">route map</tspan></text></g>
<g id="fpr4" transform="translate(1577.7,633.2)"><rect class="g" width="68" height="41"/><text class="t" y="18.8"><tspan x="34">Locate store</tspan><tspan x="34" dy="9.2">amenities</tspan></text></g>
<g id="fpr5" transform="translate(1577.7,680.5)"><rect class="g" width="68" height="41"/><text class="t" y="18.8"><tspan x="34">Request help from</tspan><tspan x="34" dy="9.2">an associate</tspan></text></g>
<g id="fpr6" transform="translate(1577.7,727.8)"><rect class="g" width="68" height="41"/><text class="t" y="18.8"><tspan x="34">Filter produce by</tspan><tspan x="34" dy="9.2">local flag</tspan></text></g>
<g id="fpr7" transform="translate(1577.7,775.1)"><rect class="g" width="68" height="41"/><text class="t" y="18.8"><tspan x="34">Display restocking</tspan><tspan x="34" dy="9.2">date</tspan></text></g>
</g>

<g id="fc-best-price">
<rect class="bb" x="1672" y="481.7" width="168.7" height="215.6"/>
<g id="fbp1" transform="translate(1685.7,491.3)"><rect class="g" width="68" height="41"/><text class="t" y="14.2"><tspan x="34">Notify if item is on</tspan><tspan x="34" dy="9.2">sale or has a</tspan><tspan x="34" dy="9.2">coupon</tspan></text></g>
<g id="fbp2" transform="translate(1685.7,538.6)"><rect class="g" width="68" height="41"/><text class="t" y="18.8"><tspan x="34">Notify if a related</tspan><tspan x="34" dy="9.2">item is on sale</tspan></text></g>
<g id="fbp3" transform="translate(1685.7,585.9)"><rect class="g" width="68" height="41"/><text class="t" y="14.2"><tspan x="34">Show price from a</tspan><tspan x="34" dy="9.2">non-store source</tspan><tspan x="34" dy="9.2">(price match)</tspan></text></g>
<g id="fbp4" transform="translate(1685.7,633.2)"><rect class="g" width="68" height="41"/><text class="t" y="18.8"><tspan x="34">Provide help for</tspan><tspan x="34" dy="9.2">decoding item tags</tspan></text></g>
<g id="fbp5" transform="translate(1760,491.3)"><rect class="g" width="68" height="41"/><text class="t" y="18.8"><tspan x="34">Display related</tspan><tspan x="34" dy="9.2">items</tspan></text></g>
<g id="fbp6" transform="translate(1760,538.6)"><rect class="g" width="68" height="41"/><text class="t" y="9.6"><tspan x="34">View the best</tspan><tspan x="34" dy="9.2">value within a</tspan><tspan x="34" dy="9.2">group of related</tspan><tspan x="34" dy="9.2">items</tspan></text></g>
<g id="fbp7" transform="translate(1760,585.9)"><rect class="g" width="68" height="41"/><text class="t" y="14.2"><tspan x="34">Prompt to add</tspan><tspan x="34" dy="9.2">options (warranty,</tspan><tspan x="34" dy="9.2">accessories)</tspan></text></g>
</g>

<g id="fc-basket">
<rect class="bb" x="1854" y="481.7" width="94.7" height="356.6"/>
<g id="fub1" transform="translate(1868,491.3)"><rect class="w" width="68" height="41"/><text class="t" y="23.4"><tspan x="34">Scan an item</tspan></text></g>
<g id="fub2" transform="translate(1868,538.6)"><rect class="w" width="68" height="41"/><text class="t" y="18.8"><tspan x="34">Search and locate</tspan><tspan x="34" dy="9.2">an item</tspan></text></g>
<g id="fub3" transform="translate(1868,585.9)"><rect class="w" width="68" height="41"/><text class="t" y="9.6"><tspan x="34">Display item</tspan><tspan x="34" dy="9.2">details (price,</tspan><tspan x="34" dy="9.2">reviews, aisle,</tspan><tspan x="34" dy="9.2">options, etc.)</tspan></text></g>
<g id="fub4" transform="translate(1868,633.2)"><rect class="w" width="68" height="41"/><text class="t" y="14.2"><tspan x="34">Add, remove,</tspan><tspan x="34" dy="9.2">update shopping</tspan><tspan x="34" dy="9.2">list items</tspan></text></g>
<g id="fub5" transform="translate(1868,680.5)"><rect class="w" width="68" height="41"/><text class="t" y="14.2"><tspan x="34">Save a purchased</tspan><tspan x="34" dy="9.2">item to basket</tspan><tspan x="34" dy="9.2">history</tspan></text></g>
<g id="fub6" transform="translate(1868,727.8)"><rect class="g" width="68" height="41"/><text class="t" y="14.2"><tspan x="34">Be alerted if</tspan><tspan x="34" dy="9.2">someone has</tspan><tspan x="34" dy="9.2">updated a list</tspan></text></g>
<g id="fub7" transform="translate(1868,775.1)"><rect class="g" width="68" height="41"/><text class="t" y="18.8"><tspan x="34">Notify for coupons</tspan><tspan x="34" dy="9.2">about to expire</tspan></text></g>
</g>

<g id="fc-budget">
<rect class="bb" x="1962" y="481.7" width="94" height="215.6"/>
<g id="fbd1" transform="translate(1976,491.3)"><rect class="g" width="68" height="41"/><text class="t" y="23.4"><tspan x="34">Calculate sales tax</tspan></text></g>
<g id="fbd2" transform="translate(1976,538.6)"><rect class="g" width="68" height="41"/><text class="t" y="14.2"><tspan x="34">Sort or filter list</tspan><tspan x="34" dy="9.2">view by budget</tspan><tspan x="34" dy="9.2">category</tspan></text></g>
<g id="fbd3" transform="translate(1976,585.9)"><rect class="g" width="68" height="41"/><text class="t" y="18.8"><tspan x="34">View a trade-off</tspan><tspan x="34" dy="9.2">item</tspan></text></g>
<g id="fbd4" transform="translate(1976,633.2)"><rect class="g" width="68" height="41"/><text class="t" y="18.8"><tspan x="34">Assign a follow-up</tspan><tspan x="34" dy="9.2">date for an item</tspan></text></g>
</g>

<g id="fc-checkout">
<rect class="bb" x="2070" y="481.7" width="94" height="255.6"/>
<g id="fco1" transform="translate(2083.7,491.3)"><rect class="w" width="68" height="41"/><text class="t" y="18.8"><tspan x="34">Pay for items in</tspan><tspan x="34" dy="9.2">basket</tspan></text></g>
<g id="fco2" transform="translate(2083.7,538.6)"><rect class="w" width="68" height="41"/><text class="t" y="23.4"><tspan x="34">Provide eReceipt</tspan></text></g>
<g id="fco3" transform="translate(2083.7,585.9)"><rect class="g" width="68" height="41"/><text class="t" y="18.8"><tspan x="34">Recommend</tspan><tspan x="34" dy="9.2">checkout lane</tspan></text></g>
<g id="fco4" transform="translate(2083.7,633.2)"><rect class="g" width="68" height="41"/><text class="t" y="18.8"><tspan x="34">Transfer coupons</tspan><tspan x="34" dy="9.2">with basket</tspan></text></g>
<g id="fco5" transform="translate(2083.7,680.5)"><rect class="g" width="68" height="41"/><text class="t" y="18.8"><tspan x="34">Pay using</tspan><tspan x="34" dy="9.2">Walmart Wallet</tspan></text></g>
</g>

<g id="fc-exit">
<rect class="bb" x="2210" y="481.7" width="94.3" height="62.6"/>
<g id="fex1" transform="translate(2224,491.3)"><rect class="g" width="68" height="41"/><text class="t" y="18.8"><tspan x="34">Notify car parking</tspan><tspan x="34" dy="9.2">lot location</tspan></text></g>
</g>

<g id="fc-home">
<rect class="bb" x="2316.7" y="481.7" width="94.3" height="115"/>
<g id="fhm1" transform="translate(2330.3,491.3)"><rect class="w" width="68" height="41"/><text class="t" y="18.8"><tspan x="34">Display basket</tspan><tspan x="34" dy="9.2">history</tspan></text></g>
<g id="fhm2" transform="translate(2330.3,538.6)"><rect class="g" width="68" height="41"/><text class="t" y="18.8"><tspan x="34">Sync eReceipt with</tspan><tspan x="34" dy="9.2">budget</tspan></text></g>
</g>
</svg>
